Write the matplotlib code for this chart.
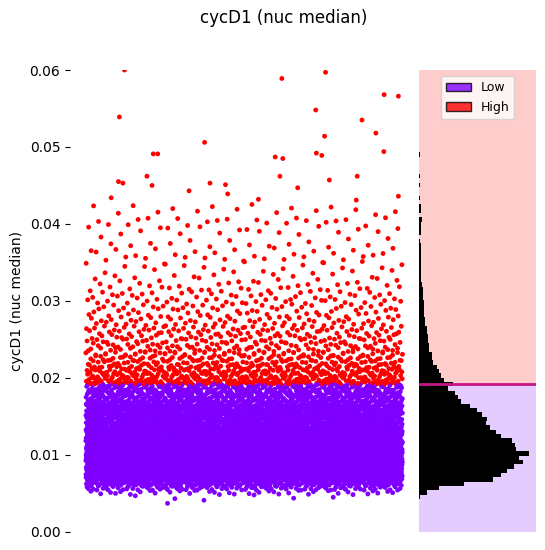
import numpy as np
import matplotlib
matplotlib.use("Agg")
import matplotlib.pyplot as plt
from matplotlib.patches import Patch

# --- data ---
title = "cycD1 (nuc median)"
threshold = 0.0192
y_min, y_max = 0.0037, 0.0600
n_bins = 100

# counts per histogram bin, from the bottom bin upwards (bins of width (y_max-y_min)/100)
bin_counts = [0, 5, 36, 90, 200, 325, 360, 390, 420, 460,
              440, 485, 430, 425, 410, 360, 340, 315, 295, 300,
              280, 255, 225, 185, 170, 160, 130, 150, 112, 95,
              90, 80, 63, 58, 58, 45, 42, 40, 39, 36,
              35, 27, 27, 22, 22, 24, 22, 19, 19, 18,
              12, 11, 9, 7, 9, 9, 11, 9, 9, 9,
              5, 2, 9, 9, 8, 12, 2, 7, 7]

# isolated points (jitter position 0..1, value)
outlier_x = [0.258, 0.373,
             0.122, 0.619, 0.757, 0.942, 0.987, 0.106, 0.726, 0.872,
             0.916, 0.754, 0.375, 0.941, 0.213, 0.227, 0.728, 0.745,
             0.598, 0.622, 0.193, 0.613, 0.857, 0.103, 0.117, 0.209,
             0.392, 0.441, 0.769, 0.669, 0.326, 0.080, 0.448, 0.987,
             0.854, 0.545]
outlier_y = [0.0037, 0.0041,
             0.0600, 0.0589, 0.0597, 0.0568, 0.0566, 0.0539, 0.0548, 0.0535,
             0.0518, 0.0514, 0.0506, 0.0494, 0.0491, 0.0491, 0.0492, 0.0489,
             0.0487, 0.0485, 0.0462, 0.0462, 0.0462, 0.0455, 0.0453, 0.0450,
             0.0453, 0.0451, 0.0457, 0.0447, 0.0443, 0.0434, 0.0439, 0.0436,
             0.0431, 0.0432]


def halton(i, base):
    # radical inverse of i, used to spread points over a bin
    f, r = 1.0, 0.0
    while i > 0:
        f /= base
        r += f * (i % base)
        i //= base
    return r


# build the strip points: spread each bin's count over the bin
edges = np.linspace(y_min, y_max, n_bins + 1)
xs, ys = [], []
i = 17
for k, n in enumerate(bin_counts):
    lo, hi = edges[k], edges[k + 1]
    for j in range(n):
        xs.append(halton(i, 2))
        ys.append(lo + halton(i, 3) * (hi - lo))
        i += 1
x = np.array(xs + outlier_x)
y = np.array(ys + outlier_y)

low_col = plt.cm.rainbow(0.0)
high_col = plt.cm.rainbow(1.0)
colors = [low_col if v < threshold else high_col for v in y]

fig = plt.figure(figsize=(5.45, 5.5), dpi=100)
ax = fig.add_axes([70 / 545, 18.2 / 550, 342 / 545, 461.8 / 550])
axh = fig.add_axes([419 / 545, 18.2 / 550, 117 / 545, 461.8 / 550], sharey=ax)

ax.scatter(x, y, c=colors, s=12, linewidths=0)
ax.set_ylim(0, 0.06)
ax.set_xlim(-0.05, 1.03)
for s in ax.spines.values():
    s.set_visible(False)
ax.set_xticks([])
ax.set_ylabel(title)

# side histogram
axh.axhspan(0, threshold, color=low_col, alpha=0.2, lw=0, zorder=0)
axh.axhspan(threshold, 0.06, color=high_col, alpha=0.2, lw=0, zorder=0)
n, _, _ = axh.hist(y, bins=edges, orientation="horizontal", color="black",
                   zorder=2)
axh.axhline(threshold, color="mediumvioletred", lw=2, zorder=3)
axh.set_xlim(0, n.max() * 1.065)
axh.axis("off")

handles = [Patch(facecolor=low_col, edgecolor="k", alpha=0.8, label="Low"),
           Patch(facecolor=high_col, edgecolor="k", alpha=0.8, label="High")]
axh.legend(handles=handles, loc="upper center", fontsize=9)

fig.suptitle(title, x=0.52, y=0.967, va="center", fontsize=12)

plt.savefig("out.png", dpi=100)
